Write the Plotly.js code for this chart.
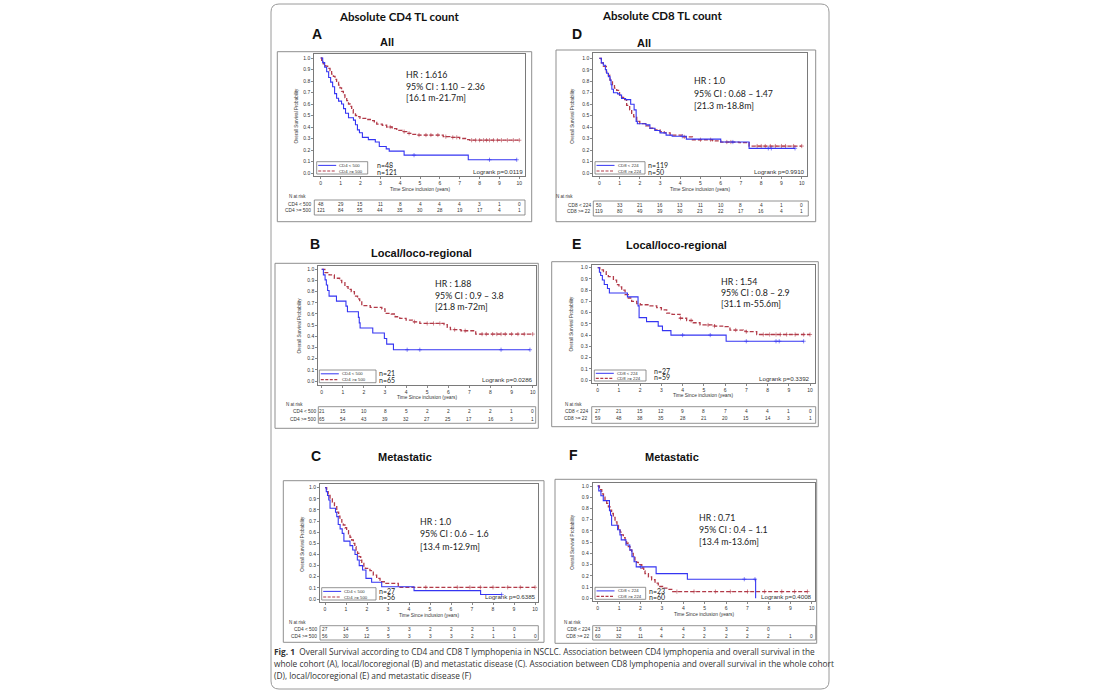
<!DOCTYPE html>
<html><head><meta charset="utf-8">
<script src="https://cdn.plot.ly/plotly-3.0.1.min.js"></script>
<style>html,body{margin:0;padding:0;background:#fff;}#chart{width:1100px;height:700px;}</style>
</head><body><div id="chart"></div>
<script>
// ---------------- DATA ----------------
const TIME_TICKS = [0,1,2,3,4,5,6,7,8,9,10];
const SURV_TICKS = [0,0.1,0.2,0.3,0.4,0.5,0.6,0.7,0.8,0.9,1.0];

// Panel A : CD4, All
const A_low_t = [0,0.1,0.2,0.3,0.4,0.5,0.6,0.7,0.8,0.9,1.05,1.15,1.25,1.4,1.65,1.75,1.85,1.95,2.1,2.4,2.75,2.95,3.3,3.45,4.2,7.43];
const A_low_s = [1,0.96,0.92,0.88,0.83,0.79,0.75,0.69,0.65,0.625,0.6,0.56,0.52,0.48,0.46,0.42,0.375,0.35,0.31,0.29,0.27,0.23,0.21,0.19,0.155,0.115];
const A_low_end = 9.87;
const A_low_cens = [4.7,8.5,9.87];
const A_high_t = [0,0.05,0.13,0.25,0.35,0.47,0.55,0.64,0.72,0.8,0.9,0.97,1.05,1.14,1.22,1.31,1.4,1.48,1.56,1.64,1.75,1.85,1.98,2.3,2.5,2.7,2.82,3.1,3.32,3.6,3.83,4.1,4.33,4.6,4.83,6.17,6.5,7.0,7.35,7.5];
const A_high_s = [1,0.98,0.95,0.93,0.91,0.89,0.86,0.84,0.815,0.79,0.765,0.74,0.71,0.68,0.655,0.63,0.6,0.58,0.55,0.52,0.5,0.49,0.475,0.465,0.455,0.44,0.425,0.415,0.4,0.385,0.37,0.36,0.345,0.335,0.33,0.316,0.31,0.3,0.29,0.285];
const A_high_end = 10.0;
const A_high_cens = [3.5,4.2,4.45,4.95,5.3,5.55,5.9,6.3,6.65,6.85,7.6,7.8,8.0,8.2,8.35,8.5,8.7,8.9,9.1,9.4,9.7,10.0];
const A_risk_low = [48,29,15,11,8,4,4,4,3,1,0];
const A_risk_high = [121,84,55,44,35,30,28,19,17,4,1];

// Panel D : CD8, All
const D_low_t = [0,0.1,0.2,0.3,0.36,0.45,0.53,0.58,0.62,0.7,0.9,1.0,1.1,1.3,1.55,1.72,1.82,1.88,2.3,2.5,2.75,3.0,3.3,3.6,4.3,6.0,7.4];
const D_low_s = [1,0.96,0.94,0.9,0.87,0.84,0.81,0.77,0.73,0.7,0.69,0.68,0.65,0.64,0.6,0.55,0.45,0.43,0.42,0.39,0.37,0.35,0.33,0.32,0.295,0.27,0.215];
const D_low_end = 9.67;
const D_low_cens = [4.1,6.6,8.35,8.5,9.67];
const D_high_t = [0,0.1,0.2,0.35,0.45,0.53,0.65,0.75,0.86,1.0,1.1,1.2,1.35,1.5,1.6,1.7,1.85,2.0,2.3,2.5,2.75,3.0,3.2,3.5,4.1,4.6,5.6,6.0,6.9,7.4];
const D_high_s = [1,0.96,0.93,0.88,0.85,0.81,0.77,0.74,0.72,0.68,0.66,0.64,0.59,0.55,0.52,0.49,0.45,0.43,0.41,0.39,0.375,0.36,0.35,0.33,0.315,0.29,0.28,0.27,0.265,0.235];
const D_high_end = 10.0;
const D_high_cens = [4.2,5.0,5.5,6.3,6.5,7.8,8.0,8.2,8.45,8.7,9.0,9.2,9.6,10.0];
const D_risk_low = [50,33,21,16,13,11,10,8,4,1,0];
const D_risk_high = [119,80,49,39,30,23,22,17,16,4,1];

// Panel B : CD4, local/loco-regional
const B_low_t = [0,0.08,0.16,0.22,0.28,0.35,0.7,1.15,1.22,1.74,1.78,1.82,2.42,2.97,3.08,3.4];
const B_low_s = [1,0.95,0.905,0.86,0.81,0.76,0.715,0.67,0.62,0.57,0.52,0.475,0.43,0.38,0.33,0.28];
const B_low_end = 9.87;
const B_low_cens = [4.05,4.65,8.5,9.87];
const B_high_t = [0,0.15,0.35,0.6,0.85,0.95,1.1,1.25,1.4,1.55,1.7,1.8,1.9,2.3,2.85,3.0,3.3,3.48,3.7,4.0,4.3,4.65,5.8,5.95,6.1,6.6,7.3];
const B_high_s = [1,0.97,0.95,0.92,0.9,0.88,0.845,0.82,0.8,0.76,0.735,0.72,0.675,0.66,0.645,0.605,0.6,0.575,0.56,0.545,0.53,0.515,0.505,0.48,0.46,0.45,0.42];
const B_high_end = 10.0;
const B_high_cens = [4.4,5.0,5.3,5.6,6.3,6.8,7.6,7.8,8.1,8.3,8.5,8.7,9.0,9.3,9.6,10.0];
const B_risk_low = [21,15,10,8,5,2,2,2,2,1,0];
const B_risk_high = [65,54,43,39,32,27,25,17,16,3,1];

// Panel E : CD8, local/loco-regional
const E_low_t = [0,0.08,0.14,0.22,0.31,0.46,0.55,1.4,1.9,1.95,2.3,2.85,3.05,3.45,6.05];
const E_low_s = [1,0.96,0.93,0.89,0.85,0.815,0.775,0.74,0.66,0.555,0.52,0.48,0.44,0.4,0.345];
const E_low_end = 9.7;
const E_low_cens = [4.0,5.3,7.0,8.4,8.55,9.7];
const E_high_t = [0,0.1,0.27,0.4,0.5,0.74,0.89,1.0,1.13,1.29,1.44,1.6,1.84,2.0,2.46,2.78,3.0,3.25,3.5,3.88,4.19,4.5,4.82,5.5,6.0,6.23,6.86,7.0,7.49];
const E_high_s = [1,0.98,0.965,0.94,0.92,0.89,0.85,0.83,0.8,0.76,0.73,0.7,0.68,0.67,0.66,0.645,0.625,0.595,0.585,0.55,0.53,0.51,0.49,0.48,0.475,0.445,0.435,0.43,0.405];
const E_high_end = 10.0;
const E_high_cens = [3.9,4.4,5.2,5.5,6.5,7.0,7.8,8.1,8.4,8.6,8.9,9.3,9.7,10.0];
const E_risk_low = [27,21,15,12,9,8,7,4,4,1,0];
const E_risk_high = [59,48,38,35,28,21,20,15,14,3,1];

// Panel C : CD4, metastatic
const C_low_t = [0,0.06,0.12,0.18,0.24,0.5,0.56,0.63,0.72,0.82,0.9,1.19,1.32,1.43,1.54,1.63,1.79,1.95,2.22,2.7,4.24,7.41];
const C_low_s = [1,0.965,0.93,0.89,0.815,0.78,0.74,0.67,0.63,0.59,0.52,0.48,0.44,0.4,0.35,0.3,0.26,0.185,0.15,0.11,0.075,0.04];
const C_low_end = 8.41;
const C_low_cens = [8.41];
const C_high_t = [0,0.08,0.15,0.24,0.35,0.45,0.56,0.65,0.71,0.8,0.87,0.95,1.03,1.12,1.19,1.27,1.35,1.42,1.48,1.55,1.62,1.7,1.75,1.85,1.92,2.14,2.3,2.46,2.62,2.86,3.49];
const C_high_s = [1,0.965,0.93,0.9,0.87,0.83,0.78,0.745,0.72,0.69,0.665,0.64,0.615,0.585,0.555,0.53,0.5,0.47,0.44,0.41,0.38,0.35,0.32,0.295,0.275,0.255,0.215,0.185,0.155,0.14,0.105];
const C_high_end = 10.0;
const C_high_cens = [4.8,6.3,6.9,7.4,8.0,8.7,9.3,10.0];
const C_risk_low = [27,14,5,3,3,2,2,2,1,0,null];
const C_risk_high = [56,30,12,5,3,3,3,2,1,1,0];

// Panel F : CD8, metastatic
const F_low_t = [0,0.05,0.15,0.26,0.55,0.6,0.65,0.93,1.04,1.1,1.32,1.5,1.6,1.7,1.8,2.73,4.19,7.38];
const F_low_s = [1,0.957,0.913,0.87,0.78,0.74,0.65,0.61,0.565,0.52,0.475,0.43,0.37,0.325,0.28,0.22,0.17,0];
const F_low_end = 7.38;
const F_low_cens = [2.0,6.85,7.35];
const F_high_t = [0,0.08,0.19,0.27,0.34,0.42,0.5,0.58,0.65,0.73,0.81,0.9,0.97,1.05,1.12,1.2,1.28,1.35,1.43,1.51,1.59,1.66,1.74,1.82,1.9,2.06,2.15,2.21,2.37,2.52,2.68,2.83,3.07,3.3,3.46];
const F_high_s = [1,0.967,0.93,0.9,0.875,0.845,0.815,0.785,0.755,0.72,0.68,0.65,0.62,0.59,0.565,0.54,0.52,0.49,0.46,0.43,0.4,0.37,0.34,0.32,0.3,0.27,0.245,0.22,0.19,0.165,0.135,0.105,0.09,0.08,0.06];
const F_high_end = 9.8;
const F_high_cens = [3.7,4.5,5.5,6.2,7.0,7.8,8.6,9.2,9.8];
const F_risk_low = [23,12,6,4,4,3,3,2,0,null,null];
const F_risk_high = [60,32,11,4,2,2,2,2,2,1,0];

// Text
const HEADERS = ['Absolute CD4 TL count','Absolute CD8 TL count'];
const CD4_LABELS = ['CD4 < 500','CD4 >= 500'];
const CD8_LABELS = ['CD8 < 224','CD8 >= 224'];
const CD4_ROW_LABELS = ['CD4 < 500','CD4 >= 500'];
const CD8_ROW_LABELS = ['CD8 < 224','CD8 >= 22'];
const CAPTION = [
  '<b>Fig. 1</b>  Overall Survival according to CD4 and CD8 T lymphopenia in NSCLC. Association between CD4 lymphopenia and overall survival in the',
  'whole cohort (A), local/locoregional (B) and metastatic disease (C). Association between CD8 lymphopenia and overall survival in the whole cohort',
  '(D), local/locoregional (E) and metastatic disease (F)'
];

// ---------------- LAYOUT GEOMETRY (pixels) ----------------
const W = 1100, H = 700;
const px = x => x / W, py = y => 1 - y / H;
const BLUE = '#3535f2', RED = '#b23a48';
const FONT = 'Liberation Sans, Arial, sans-serif';
const CAL = 'Lato, Open Sans, sans-serif';

const panels = [
  {id:'A', sub:'All', letter:[316.7,34], subPos:[386.7,42],
   low:[A_low_t,A_low_s,A_low_end,A_low_cens], high:[A_high_t,A_high_s,A_high_end,A_high_cens],
   risk:[A_risk_low,A_risk_high], labels:CD4_LABELS, rowLabels:CD4_ROW_LABELS,
   n:['n=48','n=121'], hr:['HR : 1.616','95% CI : 1.10 \u2013 2.36','[16.1 m-21.7m]'], p:'Logrank p=0.0119',
   frame:[277.3,51.7,531.7,221.7], box:[314.3,54.3,525,176], x0:320.7, x10:519.3, y1:58, y0:173,
   hrPos:[405,74,86,97.7], leg:[316.7,161.7,367.7,174], nPos:[376,164.5,172], pPos:[524,171.7],
   ytitleX:296, xtitleY:190, nrisk:[288.3,196.7], tbl:[314.3,200,525,215], rowY:[204.3,211], rowLabX:312.3},
  {id:'D', sub:'All', letter:[576.7,34], subPos:[644.3,43.3],
   low:[D_low_t,D_low_s,D_low_end,D_low_cens], high:[D_high_t,D_high_s,D_high_end,D_high_cens],
   risk:[D_risk_low,D_risk_high], labels:CD8_LABELS, rowLabels:CD8_ROW_LABELS,
   n:['n=119','n=50'], hr:['HR : 1.0','95% CI : 0.68 \u2013 1.47','[21.3 m-18.8m]'], p:'Logrank p=0.9910',
   frame:[556,50,815.7,221.7], box:[593.3,53.3,806.7,176], x0:599.3, x10:801.7, y1:58.3, y0:173,
   hrPos:[692.7,81,93.3,105.3], leg:[595,161.7,645,174], nPos:[646.7,164.5,172], pPos:[806,171.7],
   ytitleX:573, xtitleY:189, nrisk:[555,196.7], tbl:[593.3,201,808.3,216], rowY:[205,211.3], rowLabX:591.7},
  {id:'B', sub:'Local/loco-regional', letter:[315,244], subPos:[421,253.3],
   low:[B_low_t,B_low_s,B_low_end,B_low_cens], high:[B_high_t,B_high_s,B_high_end,B_high_cens],
   risk:[B_risk_low,B_risk_high], labels:CD4_LABELS, rowLabels:CD4_ROW_LABELS,
   n:['n=21','n=65'], hr:['HR : 1.88','95% CI : 0.9 \u2013 3.8','[21.8 m-72m]'], p:'Logrank p=0.0286',
   frame:[275,263.3,538.3,428.3], box:[318.3,266,535.7,385], x0:321.7, x10:532.7, y1:269.3, y0:381,
   hrPos:[434.3,283.3,295,306.7], leg:[319.3,370,376,382.7], nPos:[378.3,372.7,380], pPos:[534.3,379.3],
   ytitleX:299.3, xtitleY:397.7, nrisk:[285,404], tbl:[318.3,406.7,535.7,423.3], rowY:[412,419], rowLabX:316.7},
  {id:'E', sub:'Local/loco-regional', letter:[576,244], subPos:[676.7,245],
   low:[E_low_t,E_low_s,E_low_end,E_low_cens], high:[E_high_t,E_high_s,E_high_end,E_high_cens],
   risk:[E_risk_low,E_risk_high], labels:CD8_LABELS, rowLabels:CD8_ROW_LABELS,
   n:['n=27','n=59'], hr:['HR : 1.54','95% CI : 0.8 \u2013 2.9','[31.1 m-55.6m]'], p:'Logrank p=0.3392',
   frame:[551.7,261.7,818.3,426.7], box:[591.7,265,815,383.3], x0:597.7, x10:810, y1:267.7, y0:380,
   hrPos:[720,281,292,303.3], leg:[594.3,370,646,381], nPos:[652.7,370.7,376.7], pPos:[811,378.3],
   ytitleX:571.7, xtitleY:395.7, nrisk:[564,404], tbl:[591.7,406.7,815.7,423.3], rowY:[411.7,418.7], rowLabX:589.3},
  {id:'C', sub:'Metastatic', letter:[316,455.7], subPos:[405,457.3],
   low:[C_low_t,C_low_s,C_low_end,C_low_cens], high:[C_high_t,C_high_s,C_high_end,C_high_cens],
   risk:[C_risk_low,C_risk_high], labels:CD4_LABELS, rowLabels:CD4_ROW_LABELS,
   n:['n=27','n=56'], hr:['HR : 1.0','95% CI : 0.6 \u2013 1.6','[13.4 m-12.9m]'], p:'Logrank p=0.6385',
   frame:[283.3,480.7,544,642.3], box:[320,484,538.3,601.7], x0:325, x10:535, y1:487.7, y0:599,
   hrPos:[419,521,533.3,546], leg:[321.7,587.7,376,600], nPos:[377.7,590.7,596.5], pPos:[536.7,596.7],
   ytitleX:302.3, xtitleY:615, nrisk:[288.3,622.3], tbl:[320,625.7,538.3,640], rowY:[629.3,636.7], rowLabX:318.3},
  {id:'F', sub:'Metastatic', letter:[573.3,455], subPos:[671.7,457.3],
   low:[F_low_t,F_low_s,F_low_end,F_low_cens], high:[F_high_t,F_high_s,F_high_end,F_high_cens],
   risk:[F_risk_low,F_risk_high], labels:CD8_LABELS, rowLabels:CD8_ROW_LABELS,
   n:['n=23','n=60'], hr:['HR : 0.71','95% CI : 0.4 \u2013 1.1','[13.4 m-13.6m]'], p:'Logrank p=0.4008',
   frame:[555,479.3,816.7,643.3], box:[592.7,482.7,815,600.7], x0:597.7, x10:811.7, y1:486, y0:598.3,
   hrPos:[697.7,517.3,529.3,541.7], leg:[595,587.3,645.7,599.3], nPos:[648.3,591,597.3], pPos:[812.7,596],
   ytitleX:571.7, xtitleY:614, nrisk:[563.3,622.3], tbl:[592.7,625.7,815.7,640], rowY:[629,636.7], rowLabX:590.7}
];

// ---------------- BUILD ----------------
const traces = [], shapes = [], ann = [];
const layout = {width:W, height:H, margin:{l:0,r:0,t:0,b:0}, paper_bgcolor:'#fff', plot_bgcolor:'#fff',
  showlegend:false, shapes, annotations:ann};

function txt(x, y, text, opt) {
  const o = Object.assign({xref:'paper', yref:'paper', x:px(x), y:py(y), text:text, showarrow:false,
    xanchor:'center', yanchor:'middle', borderpad:0, font:{family:FONT, size:6, color:'#222'}}, opt || {});
  ann.push(o);
}
function rect(b, color, width) {
  shapes.push({type:'rect', xref:'paper', yref:'paper', x0:px(b[0]), x1:px(b[2]), y0:py(b[3]), y1:py(b[1]),
    line:{color:color, width:width}, fillcolor:'rgba(0,0,0,0)', layer:'above'});
}
function survAt(t, s, tc) { let v = s[0]; for (let i = 0; i < t.length; i++) if (t[i] <= tc) v = s[i]; return v; }

// outer rounded box
(function(){
  const L=271, T=4, R=829, B=689, r=8;
  const X = v => px(v), Y = v => py(v);
  const path = `M ${X(L+r)} ${Y(T)} L ${X(R-r)} ${Y(T)} Q ${X(R)} ${Y(T)} ${X(R)} ${Y(T+r)} L ${X(R)} ${Y(B-r)} Q ${X(R)} ${Y(B)} ${X(R-r)} ${Y(B)} L ${X(L+r)} ${Y(B)} Q ${X(L)} ${Y(B)} ${X(L)} ${Y(B-r)} L ${X(L)} ${Y(T+r)} Q ${X(L)} ${Y(T)} ${X(L+r)} ${Y(T)} Z`;
  shapes.push({type:'path', xref:'paper', yref:'paper', path:path, line:{color:'#9a9a9a', width:1}});
})();

txt(399, 17, '<b>'+HEADERS[0]+'</b>', {font:{family:CAL, size:11.5, color:'#111'}});
txt(662.3, 15.7, '<b>'+HEADERS[1]+'</b>', {font:{family:CAL, size:11.5, color:'#111'}});

panels.forEach((p, i) => {
  const k = i + 1;
  const xa = 'x' + k, ya = 'y' + k;
  const [L, T, R, B] = p.box;
  const sx = (p.x10 - p.x0) / 10, sy = (p.y0 - p.y1);
  layout['xaxis' + k] = {domain:[px(L), px(R)], anchor:ya, range:[(L - p.x0)/sx, (R - p.x0)/sx],
    tickvals:TIME_TICKS, ticktext:TIME_TICKS.map(String), ticks:'outside', ticklen:2, tickwidth:0.7, tickcolor:'#555',
    tickfont:{family:FONT, size:5, color:'#333'}, showgrid:false, zeroline:false, showline:true, mirror:true,
    linecolor:'#7a7a7a', linewidth:1, fixedrange:true};
  layout['yaxis' + k] = {domain:[py(B), py(T)], anchor:xa, range:[(p.y0 - B)/sy, (p.y0 - T)/sy],
    tickvals:SURV_TICKS, ticktext:SURV_TICKS.map(v => v.toFixed(1)), ticks:'outside', ticklen:2, tickwidth:0.7, tickcolor:'#555',
    tickfont:{family:FONT, size:5, color:'#333'}, showgrid:false, zeroline:false, showline:true, mirror:true,
    linecolor:'#7a7a7a', linewidth:1, fixedrange:true};

  [[p.high, RED, 'dash', 1.3], [p.low, BLUE, 'solid', 1.1]].forEach(([c, col, dash, w]) => {
    const [t, s, end, cens] = c;
    traces.push({type:'scatter', mode:'lines', xaxis:xa, yaxis:ya, x:t.concat([end]), y:s.concat([s[s.length-1]]),
      line:{shape:'hv', color:col, width:w, dash:dash === 'dash' ? '4px,2px' : 'solid'}, hoverinfo:'skip'});
    traces.push({type:'scatter', mode:'markers', xaxis:xa, yaxis:ya, x:cens, y:cens.map(tc => survAt(t, s, tc)),
      marker:{symbol:'cross-thin-open', size:3, color:col, line:{color:col, width:0.6}}, hoverinfo:'skip'});
  });

  // frame
  rect(p.frame, '#8f8f8f', 1);
  // letters & subtitle
  txt(p.letter[0], p.letter[1], '<b>'+p.id+'</b>', {font:{family:FONT, size:14, color:'#111'}});
  txt(p.subPos[0], p.subPos[1], '<b>'+p.sub+'</b>', {font:{family:FONT, size:11, color:'#111'}});
  // HR block
  p.hr.forEach((h, j) => txt(p.hrPos[0], p.hrPos[j+1], h, {xanchor:'left', font:{family:CAL, size:8.8, color:'#222'}}));
  // legend box
  const lg = p.leg, lh = lg[3] - lg[1];
  rect(lg, '#777', 0.8);
  const r1 = lg[1] + lh*0.3, r2 = lg[1] + lh*0.76;
  shapes.push({type:'line', xref:'paper', yref:'paper', x0:px(lg[0]+1.5), x1:px(lg[0]+19.5), y0:py(r1), y1:py(r1), line:{color:BLUE, width:1}});
  shapes.push({type:'line', xref:'paper', yref:'paper', x0:px(lg[0]+1.5), x1:px(lg[0]+19.5), y0:py(r2), y1:py(r2), line:{color:RED, width:1.1, dash:'3px,1.5px'}});
  txt(lg[0]+21.5, r1, p.labels[0], {xanchor:'left', font:{family:FONT, size:4.3, color:'#333'}});
  txt(lg[0]+21.5, r2, p.labels[1], {xanchor:'left', font:{family:FONT, size:4.3, color:'#333'}});
  txt(p.nPos[0], p.nPos[1], p.n[0], {xanchor:'left', font:{family:CAL, size:7, color:'#222'}});
  txt(p.nPos[0], p.nPos[2], p.n[1], {xanchor:'left', font:{family:CAL, size:7, color:'#222'}});
  txt(p.pPos[0], p.pPos[1], p.p, {xanchor:'right', font:{family:FONT, size:6.2, color:'#333'}});
  // axis titles
  txt(p.ytitleX, (p.y0 + p.y1)/2, 'Overall Survival Probability', {textangle:-90, font:{family:FONT, size:4.6, color:'#333'}});
  txt((L+R)/2, p.xtitleY, 'Time Since inclusion (years)', {font:{family:FONT, size:4.8, color:'#333'}});
  // at-risk table
  txt(p.nrisk[0], p.nrisk[1], 'N at risk', {xanchor:'left', font:{family:FONT, size:4.5, color:'#333'}});
  rect(p.tbl, '#777', 0.8);
  p.rowLabels.forEach((rl, j) => txt(p.rowLabX, p.rowY[j], rl, {xanchor:'right', font:{family:FONT, size:4.8, color:'#333'}}));
  p.risk.forEach((row, j) => {
    row.forEach((v, m) => {
      if (v === null) return;
      ann.push({xref:xa, yref:'paper', x:TIME_TICKS[m], y:py(p.rowY[j]), text:String(v), showarrow:false,
        xanchor:'center', yanchor:'middle', borderpad:0, font:{family:FONT, size:4.8, color:'#333'}});
    });
  });
});

// caption
[651, 663, 675].forEach((y, j) => txt(273, y, CAPTION[j], {xanchor:'left', font:{family:'Open Sans, sans-serif', size:8.3, color:'#333'}}));

Plotly.newPlot('chart', traces, layout, {staticPlot:true, displayModeBar:false});
</script>
</body></html>
